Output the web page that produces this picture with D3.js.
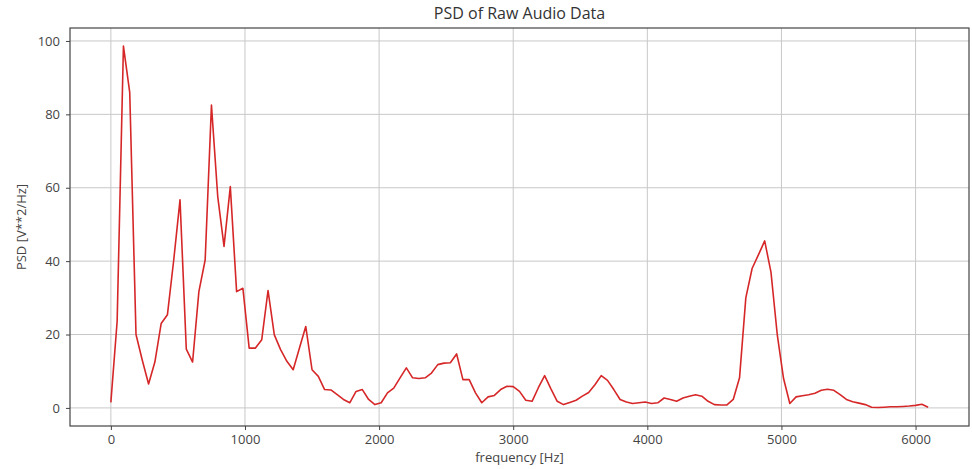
<!DOCTYPE html>
<html>
<head>
    <meta charset="utf-8">
    <title>PSD of Raw Audio Data</title>
    <script src="https://d3js.org/d3.v7.min.js"></script>
    <style>
        body { margin: 0; background: #fff; }
        text { font-family: "Open Sans", sans-serif; }
    </style>
</head>
<body>
<div id="chart"></div>
<script>
    // frequency bins: fs / nperseg = 12000 / 256 Hz apart
    const binHz = 46.875;

    // PSD values, one per bin
    const psd = [
        1.5, 23.6, 98.6, 86, 20, 13, 6.5, 12.5, 23, 25.4,
        40.3, 56.7, 16, 12.5, 31.7, 40.3, 82.5, 57.6, 44, 60.3,
        31.7, 32.6, 16.3, 16.3, 18.6, 32, 19.9, 15.9, 12.7, 10.4,
        16.3, 22.2, 10.4, 8.6, 5.0, 4.9, 3.6, 2.3, 1.4, 4.5,
        5.0, 2.3, 0.9, 1.4, 4.1, 5.4, 8.2, 10.9, 8.2, 8.0,
        8.2, 9.5, 11.8, 12.2, 12.3, 14.7, 7.7, 7.7, 4.1, 1.4,
        3.0, 3.4, 5.0, 5.9, 5.8, 4.5, 2.1, 1.8, 5.5, 8.8,
        5.2, 1.8, 0.9, 1.5, 2.1, 3.2, 4.2, 6.3, 8.8, 7.5,
        5.0, 2.3, 1.6, 1.2, 1.4, 1.6, 1.2, 1.4, 2.7, 2.3,
        1.8, 2.7, 3.2, 3.6, 3.2, 1.8, 0.9, 0.8, 0.8, 2.3,
        8.2, 30, 38, 41.7, 45.5, 37, 20, 8, 1.2, 3.0,
        3.3, 3.6, 4.0, 4.8, 5.1, 4.8, 3.6, 2.3, 1.7, 1.3,
        0.9, 0.2, 0.1, 0.2, 0.3, 0.3, 0.4, 0.5, 0.7, 1.0,
        0.2
    ];

    const xTicks = [0, 1000, 2000, 3000, 4000, 5000, 6000];
    const yTicks = [0, 20, 40, 60, 80, 100];

    const data = psd.map(function(v, i) { return {f: i * binHz, p: v}; });

    let margin = {top: 28, right: 3, bottom: 43, left: 70};
    let w = 972 - margin.left - margin.right;
    let h = 469 - margin.top - margin.bottom;

    let svg = d3.select("#chart")
        .append("svg")
            .attr("width", 972)
            .attr("height", 469);

    let g = svg.append("g")
        .attr("transform", "translate(" + margin.left + "," + margin.top + ")");

    // matplotlib style 5% padding on each side
    let fMax = d3.max(data, function(d) { return d.f; });
    let pMax = d3.max(data, function(d) { return d.p; });
    let padX = fMax * 0.05, padY = pMax * 0.05;

    let xScale = d3.scaleLinear()
        .domain([-padX, fMax + padX])
        .range([0, w]);

    let yScale = d3.scaleLinear()
        .domain([-padY, pMax + padY])
        .range([h, 0]);

    // grid
    g.append("g")
        .selectAll("line")
        .data(xTicks)
        .enter()
        .append("line")
            .attr("x1", function(d) { return xScale(d); })
            .attr("x2", function(d) { return xScale(d); })
            .attr("y1", 0)
            .attr("y2", h)
            .attr("stroke", "#c8c8c8")
            .attr("stroke-width", 1);

    g.append("g")
        .selectAll("line")
        .data(yTicks)
        .enter()
        .append("line")
            .attr("x1", 0)
            .attr("x2", w)
            .attr("y1", function(d) { return yScale(d); })
            .attr("y2", function(d) { return yScale(d); })
            .attr("stroke", "#c8c8c8")
            .attr("stroke-width", 1);

    let xAxis = d3.axisBottom(xScale).tickValues(xTicks).tickFormat(d3.format("d")).tickSize(4).tickPadding(5);
    let yAxis = d3.axisLeft(yScale).tickValues(yTicks).tickSize(4).tickPadding(6);

    let gx = g.append("g")
        .attr("transform", "translate(0," + h + ")")
        .call(xAxis);
    let gy = g.append("g").call(yAxis);

    [gx, gy].forEach(function(a) {
        a.select(".domain").remove();
        a.selectAll("line").attr("stroke", "#444");
        a.selectAll("text")
            .attr("font-family", "Open Sans, sans-serif")
            .attr("font-size", "13px")
            .attr("fill", "#444");
    });

    let line = d3.line()
        .x(function(d) { return xScale(d.f); })
        .y(function(d) { return yScale(d.p); });

    g.append("path")
        .datum(data)
        .attr("fill", "none")
        .attr("stroke", "#d62728")
        .attr("stroke-width", 1.6)
        .attr("stroke-linejoin", "round")
        .attr("d", line);

    // frame
    g.append("rect")
        .attr("width", w)
        .attr("height", h)
        .attr("fill", "none")
        .attr("stroke", "#444")
        .attr("stroke-width", 1.2);

    svg.append("text")
        .attr("x", margin.left + w / 2)
        .attr("y", 19)
        .attr("text-anchor", "middle")
        .attr("font-size", "16px")
        .attr("fill", "#333")
        .text("PSD of Raw Audio Data");

    svg.append("text")
        .attr("x", margin.left + w / 2)
        .attr("y", 462)
        .attr("text-anchor", "middle")
        .attr("font-size", "13px")
        .attr("fill", "#444")
        .text("frequency [Hz]");

    svg.append("text")
        .attr("transform", "translate(26," + (margin.top + h / 2) + ") rotate(-90)")
        .attr("text-anchor", "middle")
        .attr("font-size", "13px")
        .attr("fill", "#444")
        .text("PSD [V**2/Hz]");
</script>
</body>
</html>
